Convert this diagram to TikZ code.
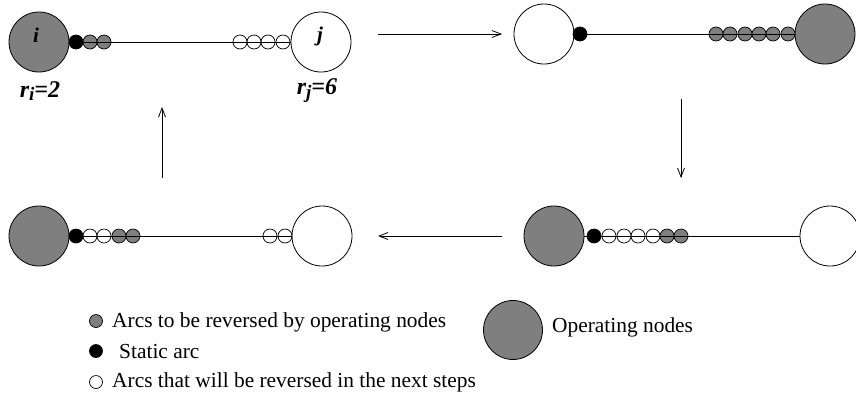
\documentclass[tikz,border=0pt]{standalone}
\usepackage{fontspec}
\setmainfont{Liberation Serif}
\usetikzlibrary{arrows.meta}
\definecolor{opgray}{RGB}{127,127,127}
\tikzset{
  big/.style={circle,draw,line width=0.8pt,minimum size=60pt,inner sep=0pt},
  bigop/.style={big,fill=opgray},
  bigfree/.style={big,fill=none},
  arc/.style={circle,draw,line width=0.7pt,minimum size=14pt,inner sep=0pt},
  arcg/.style={arc,fill=opgray},
  arcb/.style={arc,fill=black},
  arcw/.style={arc,fill=none},
  link/.style={line width=0.8pt},
  flow/.style={line width=0.8pt,-{Straight Barb[length=9pt,width=7pt,line width=0.8pt]}},
  lbl/.style={font=\fontsize{21}{21}\selectfont\bfseries\itshape,inner sep=0pt},
  rlbl/.style={font=\fontsize{24}{24}\selectfont\bfseries\itshape,inner sep=0pt},
  legtxt/.style={anchor=west,font=\fontsize{21.4}{24}\selectfont,inner sep=0pt},
  legdot/.style={circle,draw,line width=0.7pt,minimum size=13pt,inner sep=0pt}
}
\begin{document}
\begin{tikzpicture}[x=1pt,y=-1pt]
\useasboundingbox (0,0) rectangle (856,397);

% ---------- panel 1 (top left)
\node[bigop] (i1) at (39,42) {};
\node[bigfree] (j1) at (321,42) {};
\node[arcg] (p1g1) at (90,42) {};
\node[arcg] (p1g2) at (104,42) {};
\node[arcw] (p1w1) at (240,42) {};
\node[arcw] (p1w2) at (254,42) {};
\node[arcw] (p1w3) at (268,42) {};
\node[arcw] (p1w4) at (283,42) {};
\draw[link] (i1.east) -- (j1.west);
\node[arcb] (p1b) at (76,42) {};
\node[lbl] (li) at (36,35) {i};
\node[lbl] (lj) at (320,36) {j};
\node[rlbl] (ri) at (40,91) {r\raisebox{-0.35ex}{\fontsize{19}{19}\selectfont i}=2};
\node[rlbl] (rj) at (317,91) {r\raisebox{-0.35ex}{\fontsize{19}{19}\selectfont j}=6};

% ---------- panel 2 (top right)
\node[bigfree] (i2) at (544,34) {};
\node[bigop] (j2) at (825,34) {};
\node[arcg] (p2g1) at (716,34) {};
\node[arcg] (p2g2) at (730,34) {};
\node[arcg] (p2g3) at (745,34) {};
\node[arcg] (p2g4) at (759,34) {};
\node[arcg] (p2g5) at (773,34) {};
\node[arcg] (p2g6) at (788,34) {};
\draw[link] (i2.east) -- (j2.west);
\node[arcb] (p2b) at (580,34) {};

% ---------- panel 3 (bottom right)
\node[bigop] (i3) at (554,236) {};
\node[bigfree] (j3) at (830,236) {};
\node[arcw] (p3w1) at (609,236) {};
\node[arcw] (p3w2) at (624,236) {};
\node[arcw] (p3w3) at (638,236) {};
\node[arcw] (p3w4) at (653,236) {};
\node[arcg] (p3g1) at (667,236) {};
\node[arcg] (p3g2) at (681,236) {};
\draw[link] (i3.east) -- (j3.west);
\node[arcb] (p3b) at (594,236) {};

% ---------- panel 4 (bottom left)
\node[bigop] (i4) at (39,236) {};
\node[bigfree] (j4) at (322,236) {};
\node[arcw] (p4w1) at (90,236) {};
\node[arcw] (p4w2) at (104,236) {};
\node[arcg] (p4g1) at (119,236) {};
\node[arcg] (p4g2) at (133,236) {};
\node[arcw] (p4w3) at (270,236) {};
\node[arcw] (p4w4) at (285,236) {};
\draw[link] (i4.east) -- (j4.west);
\node[arcb] (p4b) at (76,236) {};

% ---------- transition arrows
\coordinate (a1s) at (378,34);
\coordinate (a1e) at (502,34);
\coordinate (a2s) at (681,99);
\coordinate (a2e) at (681,178);
\coordinate (a3s) at (502,236);
\coordinate (a3e) at (378,236);
\coordinate (a4s) at (162,178);
\coordinate (a4e) at (162,107);
\draw[flow] (a1s) -- (a1e);
\draw[flow] (a2s) -- (a2e);
\draw[flow] (a3s) -- (a3e);
\draw[flow] (a4s) -- (a4e);

% ---------- legend
\node[legdot,fill=opgray] (lg) at (96,321) {};
\node[legtxt] (lgt) at (112,322) {Arcs to be reversed by operating nodes};
\node[legdot,fill=black] (lb) at (96,351) {};
\node[legtxt] (lbt) at (119,352) {Static arc};
\node[legdot,fill=none] (lw) at (96,382) {};
\node[legtxt] (lwt) at (112,382) {Arcs that will be reversed in the next steps};
\node[bigop,minimum size=59pt] (lop) at (513,330) {};
\node[legtxt] (lopt) at (552,327) {Operating nodes};
\end{tikzpicture}
\end{document}
